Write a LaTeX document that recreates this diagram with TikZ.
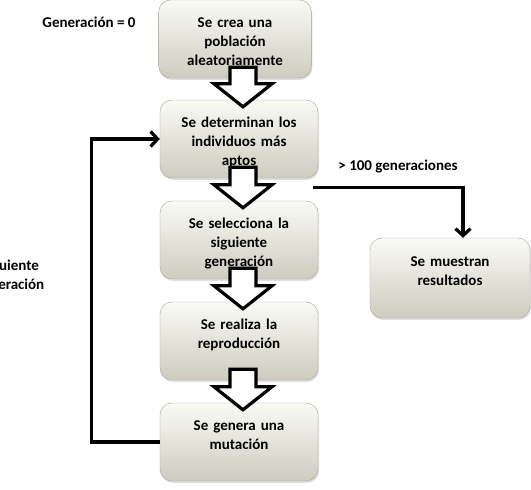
\documentclass[tikz,border=0pt]{standalone}
\usepackage{fontspec}
\setmainfont{Carlito}
\usetikzlibrary{calc,shadows,arrows.meta}

\definecolor{boxlight}{RGB}{250,250,246}
\definecolor{boxmid}{RGB}{234,233,224}
\definecolor{boxdark}{RGB}{206,204,190}

\begin{document}
\begin{tikzpicture}[x=1pt, y=1pt,
    every node/.style={font=\fontsize{15}{19}\selectfont\bfseries},
    paso/.style={rectangle, rounded corners=12pt, minimum width=158pt, minimum height=78pt,
      text width=146pt, align=center, text height=10pt, text depth=32pt,
      top color=boxlight, middle color=boxmid, bottom color=boxdark,
      draw=boxdark!80!black, line width=.4pt,
      drop shadow={shadow xshift=1pt, shadow yshift=-2pt, opacity=.25}},
    flecha/.style={draw=black, fill=white, line width=3.2pt, miter limit=4},
    linea/.style={line width=3.2pt, -{Straight Barb[length=7pt, width=15pt]}}]
  \useasboundingbox (0,0) rectangle (531,490);

  % pasos del algoritmo
  \node[paso, minimum width=150pt] (crea) at (235,451) {Se crea una\\población\\aleatoriamente};
  \node[paso] (det) at (239,351) {Se determinan los\\individuos más\\aptos};
  \node[paso] (sel) at (239,250) {Se selecciona la\\siguiente\\generación};
  \node[paso] (rep) at (239,149) {Se realiza la\\reproducción};
  \node[paso] (mut) at (239,48) {Se genera una\\mutación};
  \node[paso, minimum width=160pt, minimum height=80pt] (res) at (450,212) {Se muestran\\resultados};

  % etiquetas
  \node (gen0) at (89,468) {Generación = 0};
  \node (cond) at (398,323) {> 100 generaciones};
  \node[align=center] (sig) at (10,214) {Siguiente\\generación};

  % flechas huecas entre pasos
  \foreach \a/\b in {crea/det, det/sel, sel/rep, rep/mut}
    \draw[flecha] let \p1=($(\a.south)+(0,11)$), \p2=($(\b.north)+(4,-7)$) in
      (\x2-13pt,\y1) -- (\x2+13pt,\y1) -- (\x2+13pt,\y2+23pt) -- (\x2+29pt,\y2+23pt)
      -- (\p2) -- (\x2-29pt,\y2+23pt) -- (\x2-13pt,\y2+23pt) -- cycle;

  % lazo y salida
  \draw[linea] (mut.west) -- ++(-68,0) |- (det.west);
  \coordinate (salida) at ($(det.south east)+(-5,-9)$);
  \draw[linea] (salida) -| ([xshift=13pt]res.north);
\end{tikzpicture}
\end{document}
